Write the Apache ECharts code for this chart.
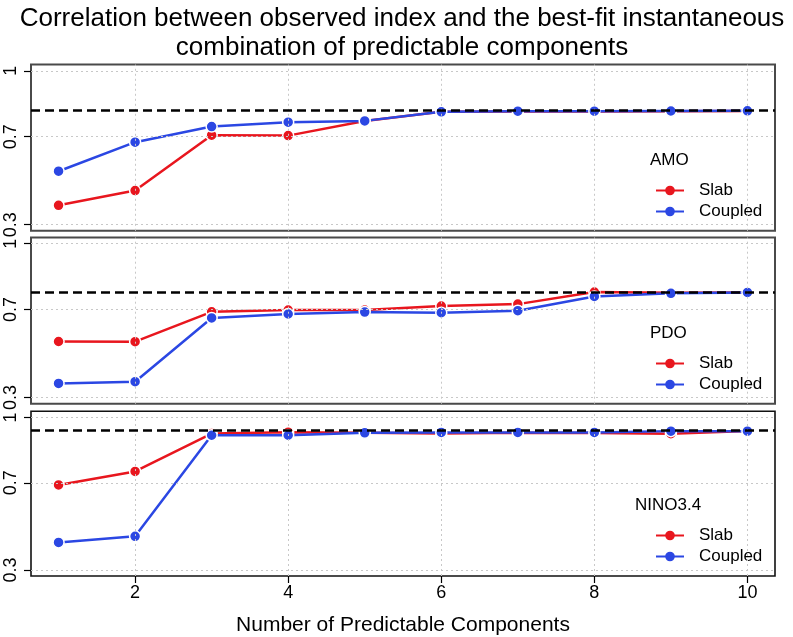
<!DOCTYPE html>
<html>
<head>
<meta charset="utf-8">
<script src="https://cdn.jsdelivr.net/npm/echarts@6/dist/echarts.min.js"></script>
<style>
html,body{margin:0;padding:0;background:#fff;}
#chart{width:793px;height:637px;}
</style>
</head>
<body>
<div id="chart"></div>
<script>
// ---- data ----
const xValues = [1, 2, 3, 4, 5, 6, 7, 8, 9, 10];
const amoSlab     = [0.388, 0.455, 0.707, 0.705, 0.771, 0.813, 0.815, 0.815, 0.816, 0.817];
const amoCoupled  = [0.543, 0.675, 0.746, 0.766, 0.772, 0.813, 0.816, 0.816, 0.817, 0.818];
const pdoSlab     = [0.555, 0.554, 0.690, 0.698, 0.698, 0.716, 0.725, 0.780, 0.777, 0.778];
const pdoCoupled  = [0.364, 0.372, 0.662, 0.680, 0.689, 0.686, 0.695, 0.760, 0.774, 0.778];
const ninoSlab    = [0.690, 0.752, 0.926, 0.932, 0.929, 0.926, 0.929, 0.928, 0.925, 0.937];
const ninoCoupled = [0.426, 0.454, 0.918, 0.918, 0.929, 0.931, 0.931, 0.931, 0.937, 0.937];
const refLines = [0.818, 0.778, 0.935];
const panelNames = ['AMO', 'PDO', 'NINO3.4'];
const seriesNames = ['Slab', 'Coupled'];
const xTicks = [2, 4, 6, 8, 10];
const yTicks = [0.3, 0.7, 1];
const titleLines = ['Correlation between observed index and the best-fit instantaneous', 'combination of predictable components'];
const xAxisTitle = 'Number of Predictable Components';

// ---- layout / style ----
const FONT = '"Liberation Sans", Arial, Helvetica, sans-serif';
const RED = '#e8161e';
const BLUE = '#2b47e3';
const gridTops = [64.6, 237.5, 411.3];
const gridH = 166.2;
const gridLeft = 31, gridWidth = 744;
const frameColors = ['#4a4a4a', '#4a4a4a', '#111'];
const frameWidths = [2, 2, 1.6];
const labelTops = [152, 325, 497];
const labelLefts = [650, 650, 635];
const slabPanels = [amoSlab, pdoSlab, ninoSlab];
const coupledPanels = [amoCoupled, pdoCoupled, ninoCoupled];

const pair = (arr) => xValues.map((x, i) => [x, arr[i]]);

const grids = [], xAxes = [], yAxes = [], series = [], titles = [], legends = [];

titles.push({
  text: titleLines.join('\n'),
  left: 402, top: 4, textAlign: 'center', padding: 0,
  textStyle: {fontFamily: FONT, fontSize: 26, fontWeight: 'normal', color: '#000', lineHeight: 29}
});

for (let p = 0; p < 3; p++) {
  grids.push({left: gridLeft, top: gridTops[p], width: gridWidth, height: gridH,
    show: true, borderColor: frameColors[p], borderWidth: frameWidths[p], backgroundColor: 'transparent'});
  const last = p === 2;
  xAxes.push({
    type: 'value', gridIndex: p, min: 0.64, max: 10.36,
    axisLine: {show: false},
    axisTick: {show: last, customValues: xTicks, length: 7, lineStyle: {color: '#000', width: 1.2}},
    axisLabel: {show: last, customValues: xTicks, margin: 8, fontFamily: FONT, fontSize: 18, color: '#000'},
    splitLine: {show: false},
    name: last ? xAxisTitle : '', nameLocation: 'middle', nameGap: 39,
    nameTextStyle: {fontFamily: FONT, fontSize: 21, color: '#000'}
  });
  yAxes.push({
    type: 'value', gridIndex: p, min: 0.272, max: 1.028,
    axisLine: {show: false},
    axisTick: {show: true, customValues: yTicks, length: 7, lineStyle: {color: '#000', width: 1.2}},
    axisLabel: {customValues: yTicks, rotate: 90, margin: 11, fontFamily: FONT, fontSize: 18, color: '#000',
      formatter: (v) => String(Math.round(v * 10) / 10)},
    splitLine: {show: false}
  });
  // grid lines (dotted)
  series.push({
    type: 'line', xAxisIndex: p, yAxisIndex: p, data: [], silent: true, z: 1,
    markLine: {
      silent: true, symbol: 'none', label: {show: false},
      lineStyle: {color: '#c8c8c8', type: [2, 3], width: 1},
      data: xTicks.map(v => ({xAxis: v})).concat(yTicks.map(v => ({yAxis: v})))
    }
  });
  series.push({
    name: seriesNames[0], type: 'line', xAxisIndex: p, yAxisIndex: p, data: pair(slabPanels[p]), z: 3,
    symbol: 'circle', symbolSize: 11,
    lineStyle: {color: RED, width: 2.5},
    itemStyle: {color: RED, borderColor: '#fff', borderWidth: 1.5}
  });
  series.push({
    name: seriesNames[1], type: 'line', xAxisIndex: p, yAxisIndex: p, data: pair(coupledPanels[p]), z: 4,
    symbol: 'circle', symbolSize: 11,
    lineStyle: {color: BLUE, width: 2.5},
    itemStyle: {color: BLUE, borderColor: '#fff', borderWidth: 1.5}
  });
  // reference dashed line
  series.push({
    type: 'line', xAxisIndex: p, yAxisIndex: p, data: [], silent: true, z: 5,
    markLine: {
      silent: true, symbol: 'none', label: {show: false},
      lineStyle: {color: '#000', type: [9, 5], width: 2.5},
      data: [{yAxis: refLines[p]}]
    }
  });
  titles.push({
    text: panelNames[p], left: labelLefts[p], top: labelTops[p], padding: 0,
    textStyle: {fontFamily: FONT, fontSize: 17, fontWeight: 'normal', color: '#000'}
  });
  legends.push({
    data: seriesNames, orient: 'vertical', left: 655, top: labelTops[p] + 30, padding: 0,
    itemWidth: 28, itemHeight: 12, itemGap: 4, selectedMode: false,
    itemStyle: {borderWidth: 0},
    lineStyle: {width: 2},
    textStyle: {fontFamily: FONT, fontSize: 17, color: '#000', padding: [0, 0, 0, 10]}
  });
}

const chart = echarts.init(document.getElementById('chart'), null, {renderer: 'canvas'});
chart.setOption({
  animation: false,
  backgroundColor: '#fff',
  title: titles,
  legend: legends,
  grid: grids,
  xAxis: xAxes,
  yAxis: yAxes,
  series: series
});
</script>
</body>
</html>
